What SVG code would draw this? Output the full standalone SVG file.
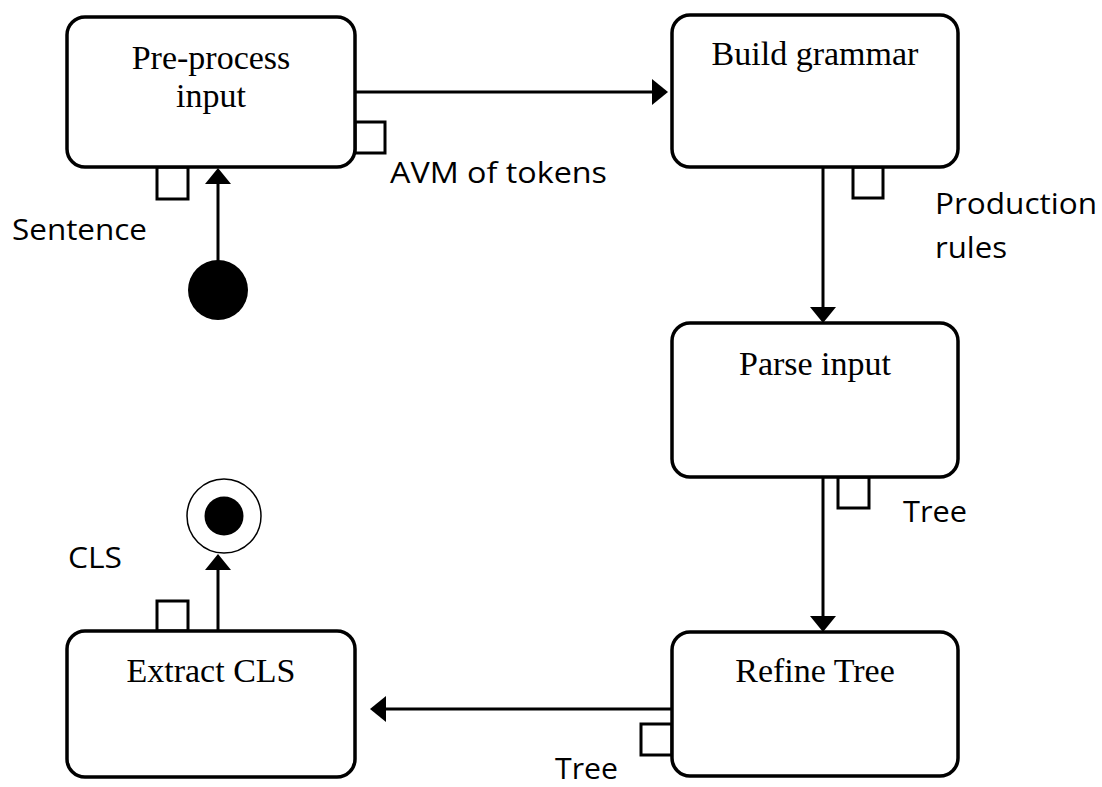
<svg xmlns="http://www.w3.org/2000/svg" width="1102" height="787" viewBox="0 0 1102 787">
<style>
.box{fill:#fff;stroke:#000;stroke-width:3.5}
.port{fill:#fff;stroke:#000;stroke-width:3}
.t{font-family:"Liberation Serif","Times New Roman",serif;font-size:34px;fill:#000;text-anchor:middle}
.lbl{font-family:"Open Sans","Liberation Sans",sans-serif;font-size:30px;fill:#000}
.edge{stroke:#000;stroke-width:3;fill:none;marker-end:url(#ah)}
</style>
<defs>
<marker id="ah" markerUnits="userSpaceOnUse" markerWidth="17" markerHeight="27" refX="0" refY="13" orient="auto" overflow="visible">
<path d="M0,0 L16,13 L0,26 Z" fill="#000"/>
</marker>
</defs>
<rect width="1102" height="787" fill="#fff"/>
<g id="connectors">
<line class="edge" x1="355" y1="92" x2="652" y2="92"/>
<line class="edge" x1="823" y1="167" x2="823" y2="307"/>
<line class="edge" x1="823" y1="477" x2="823" y2="616"/>
<line class="edge" x1="672" y1="709" x2="386" y2="709"/>
<line class="edge" x1="218" y1="262" x2="218" y2="184"/>
<line class="edge" x1="218" y1="631" x2="218" y2="570"/>
</g>
<g id="start"><circle cx="218" cy="290" r="30" fill="#000"/></g>
<g id="end"><circle cx="224" cy="516" r="37" fill="#fff" stroke="#000" stroke-width="1.5"/><circle cx="224" cy="516" r="19.5" fill="#000"/></g>
<g id="preprocess">
<rect class="port" x="355" y="122" width="30" height="31"/>
<rect class="port" x="157" y="167" width="31" height="32"/>
<rect class="box" x="67" y="17" width="288" height="150" rx="18"/>
<text class="t" x="211" y="69">Pre-process</text>
<text class="t" x="211" y="107">input</text>
</g>
<g id="build">
<rect class="port" x="853" y="167" width="30" height="31"/>
<rect class="box" x="672" y="15" width="286" height="152" rx="18"/>
<text class="t" x="815" y="65">Build grammar</text>
</g>
<g id="parse">
<rect class="port" x="838" y="477" width="31" height="31"/>
<rect class="box" x="672" y="323" width="286" height="154" rx="18"/>
<text class="t" x="815" y="375">Parse input</text>
</g>
<g id="refine">
<rect class="port" x="641" y="724" width="31" height="31"/>
<rect class="box" x="672" y="632" width="286" height="144" rx="18"/>
<text class="t" x="815" y="682">Refine Tree</text>
</g>
<g id="extract">
<rect class="port" x="157" y="601" width="31" height="30"/>
<rect class="box" x="67" y="631" width="288" height="146" rx="18"/>
<text class="t" x="211" y="682">Extract CLS</text>
</g>
<g id="labels">
<text class="lbl" x="12" y="240" textLength="135" lengthAdjust="spacingAndGlyphs">Sentence</text>
<text class="lbl" x="390" y="183" textLength="217" lengthAdjust="spacingAndGlyphs">AVM of tokens</text>
<text class="lbl" x="935" y="214" textLength="162" lengthAdjust="spacingAndGlyphs">Production</text>
<text class="lbl" x="935" y="258" textLength="72" lengthAdjust="spacingAndGlyphs">rules</text>
<text class="lbl" x="903" y="522" textLength="64" lengthAdjust="spacingAndGlyphs">Tree</text>
<text class="lbl" x="555" y="779" textLength="63" lengthAdjust="spacingAndGlyphs">Tree</text>
<text class="lbl" x="68" y="568" textLength="54" lengthAdjust="spacingAndGlyphs">CLS</text>
</g>
</svg>
